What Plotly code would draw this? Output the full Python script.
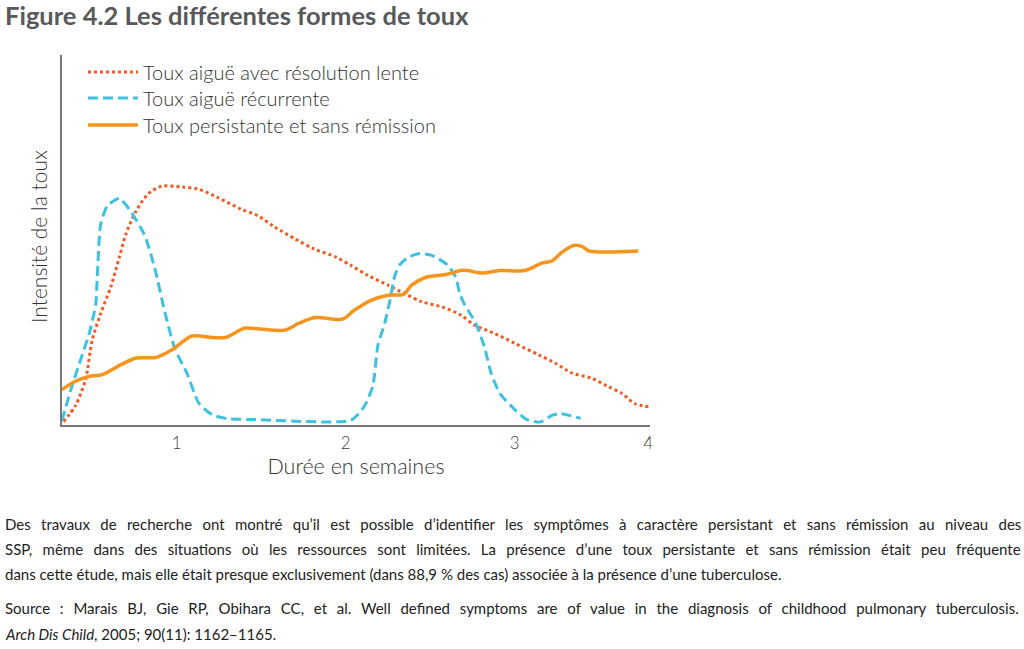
import plotly.graph_objects as go

# données (durée en semaines, intensité 0-100)
lente_x = [0.33, 0.40, 0.46, 0.50, 0.55, 0.61, 0.66, 0.70, 0.76, 0.83, 0.91, 1.03, 1.13, 1.24,
           1.38, 1.48, 1.58, 1.70, 1.81, 1.94, 2.03, 2.13, 2.25, 2.35, 2.45, 2.57, 2.68, 2.76,
           2.88, 3.00, 3.14, 3.24, 3.34, 3.45, 3.55, 3.63, 3.71, 3.80]
lente_y = [0.3, 4.6, 11.7, 22.5, 29.7, 37, 45, 51.4, 57.6, 62.2, 64.3, 64.1, 63.5, 61.3,
           58.1, 56.3, 53.2, 50, 47.3, 45.1, 42.8, 40.1, 37.4, 35.1, 32.9, 31.5, 29.3, 26.6,
           24.3, 21.6, 18.5, 16.2, 13.5, 12.2, 9.9, 8.1, 5.2, 4.3]

recur_x = [0.32, 0.38, 0.43, 0.48, 0.52, 0.53, 0.55, 0.59, 0.66, 0.72, 0.81, 0.87, 0.93, 0.99,
           1.06, 1.13, 1.21, 1.30, 1.46, 2.03, 2.11, 2.16, 2.19, 2.23, 2.26, 2.29, 2.32, 2.37,
           2.44, 2.51, 2.60, 2.65, 2.675, 2.70, 2.77, 2.82, 2.86, 2.91, 3.00, 3.07, 3.15, 3.22,
           3.27, 3.39]
recur_y = [0.5, 10, 17, 24, 32, 40, 54, 59, 61, 58, 51, 42, 30, 20,
           13.5, 5.4, 2.2, 1.1, 0.9, 0.7, 4.5, 10, 21, 27, 33, 40, 43, 45,
           46, 45.5, 43, 39.6, 35.1, 32.4, 27, 20.7, 13.5, 8.1, 3.6, 0.9, 0.2, 2.0,
           2.5, 1.2]

persist_x = [0.32, 0.40, 0.48, 0.56, 0.67, 0.76, 0.88, 0.97, 1.09, 1.21, 1.29, 1.40, 1.49, 1.64,
             1.72, 1.82, 1.98, 2.05, 2.15, 2.25, 2.34, 2.39, 2.47, 2.59, 2.68, 2.72, 2.81, 2.91,
             3.06, 3.16, 3.22, 3.28, 3.35, 3.40, 3.44, 3.73]
persist_y = [9, 11.3, 12.6, 13.1, 15.8, 17.6, 17.8, 19.8, 23.6, 23.2, 23.2, 25.7, 25.5, 25.2,
             27, 28.6, 28.2, 30.6, 33.3, 34.7, 34.9, 37.4, 39.5, 40.3, 41.4, 41.4, 40.7, 41.4,
             41.4, 43.4, 44, 46.4, 48.2, 47.9, 46.7, 46.7]

tick_vals = [1, 2, 3, 3.79]
tick_text = ['1', '2', '3', '4']

paragraphe = [
    "Des travaux de recherche ont montré qu’il est possible d’identifier les symptômes à caractère persistant et sans rémission au niveau des",
    "SSP, même dans des situations où les ressources sont limitées. La présence d’une toux persistante et sans rémission était peu fréquente",
    "dans cette étude, mais elle était presque exclusivement (dans 88,9 % des cas) associée à la présence d’une tuberculose.",
]
source = [
    "Source : Marais BJ, Gie RP, Obihara CC, et al. Well defined symptoms are of value in the diagnosis of childhood pulmonary tuberculosis.",
    "<i>Arch Dis Child</i>, 2005; 90(11): 1162–1165.",
]
# espacement des mots pour imiter le texte justifié (px)
justif_para = [6.5, 6.5, 0]
justif_source = [5.95, 0]

W, H = 1024, 649
L, R, T, B = 62, 650, 55, 425
FONT = "Lato"

def px_x(px):
    return (px - L) / (R - L)

def px_y(py):
    return (B - py) / (B - T)

def ligne_texte(txt, ws):
    if ws:
        return '<span style="word-spacing:%.2fpx">%s</span>' % (ws, txt)
    return txt

def legende(py):
    # une légende par ligne pour régler l'interligne
    return dict(x=px_x(83), y=px_y(py), xanchor='left', yanchor='middle',
                bgcolor='rgba(0,0,0,0)', itemwidth=50,
                font=dict(family=FONT, size=20, color='#333333', weight=300))

fig = go.Figure()

fig.add_trace(go.Scatter(
    x=lente_x, y=lente_y, mode='lines', name='Toux aiguë avec résolution lente',
    line=dict(color='#F15A24', width=3, dash='dot', shape='spline', smoothing=0.8),
    legend='legend', showlegend=True))
fig.add_trace(go.Scatter(
    x=recur_x, y=recur_y, mode='lines', name='Toux aiguë récurrente',
    line=dict(color='#3FC1E2', width=3, dash='10px,5px', shape='spline', smoothing=0.6),
    legend='legend2', showlegend=True))
fig.add_trace(go.Scatter(
    x=persist_x, y=persist_y, mode='lines', name='Toux persistante et sans rémission',
    line=dict(color='#F7941D', width=3.5, shape='spline', smoothing=0.8),
    legend='legend3', showlegend=True))

annotations = []
# titre de l'axe vertical
annotations.append(dict(
    text='Intensité de la toux', textangle=-90, showarrow=False,
    xref='paper', yref='paper', x=px_x(38), y=px_y(237),
    xanchor='center', yanchor='middle',
    font=dict(family=FONT, size=21, color='#333333', weight=300)))

for i, ligne in enumerate(paragraphe):
    annotations.append(dict(
        text=ligne_texte(ligne, justif_para[i]), showarrow=False, xref='paper', yref='paper',
        x=px_x(3), y=px_y(524 + 25 * i), xanchor='left', yanchor='middle',
        font=dict(family=FONT, size=15, color='#222222')))
for i, ligne in enumerate(source):
    annotations.append(dict(
        text=ligne_texte(ligne, justif_source[i]), showarrow=False, xref='paper', yref='paper',
        x=px_x(3), y=px_y(608 + 26 * i), xanchor='left', yanchor='middle',
        font=dict(family=FONT, size=15, color='#222222')))

fig.update_layout(
    width=W, height=H,
    margin=dict(l=L, r=W - R, t=T, b=H - B, autoexpand=False),
    paper_bgcolor='white', plot_bgcolor='white',
    showlegend=True,
    title=dict(text='<b>Figure 4.2 Les différentes formes de toux</b>',
               x=5 / W, xref='container', xanchor='left',
               y=1 - 16 / H, yref='container', yanchor='middle',
               font=dict(family=FONT, size=25.5, color='#58595B')),
    xaxis=dict(range=[0.321, 3.80], showgrid=False, zeroline=False,
               showline=True, linecolor='#777777', linewidth=1.5,
               tickvals=tick_vals, ticktext=tick_text, ticks='',
               ticklabelstandoff=2,
               tickfont=dict(family=FONT, size=17, color='#444444', weight=300),
               title=dict(text='Durée en semaines', standoff=6,
                          font=dict(family=FONT, size=21.5, color='#333333', weight=300))),
    yaxis=dict(range=[-0.6, 100], showgrid=False, zeroline=False,
               showline=True, linecolor='#777777', linewidth=1.5,
               showticklabels=False, ticks=''),
    legend=legende(72),
    legend2=legende(98),
    legend3=legende(125),
    annotations=annotations,
)

fig.write_html("out.html", config={'displayModeBar': False},
               post_script="document.body.style.margin='0';")
